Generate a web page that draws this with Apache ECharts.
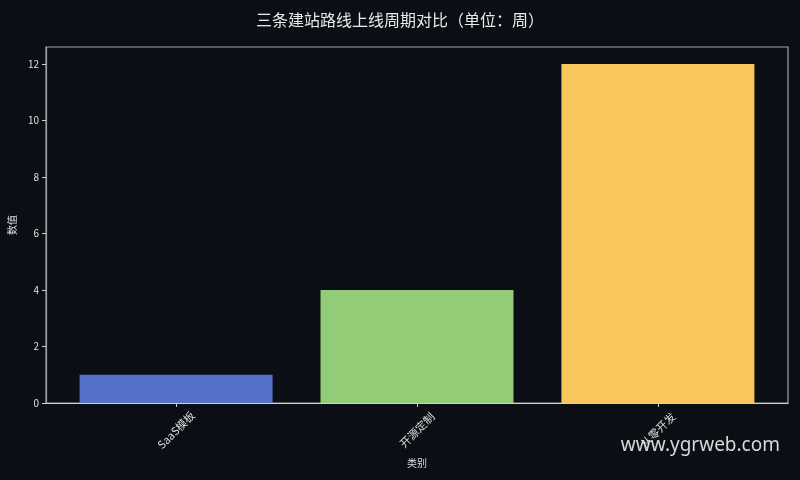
<!DOCTYPE html>
<html>
<head>
<meta charset="utf-8">
<script src="https://cdn.jsdelivr.net/npm/echarts@6/dist/echarts.min.js"></script>
<style>
  html, body { margin: 0; padding: 0; background: #0b0e14; }
  #main { width: 800px; height: 480px; }
</style>
</head>
<body>
<div id="main"></div>
<script>
// chart data
var categories = ['SaaS模板', '开源定制', '从零开发'];
var weeks = [1, 4, 12];
var barColors = ['#5572c8', '#93cc76', '#f8c75c'];
var yTicks = [0, 2, 4, 6, 8, 10, 12];

var font = '"Noto Sans CJK SC", "DejaVu Sans", sans-serif';
var myChart = echarts.init(document.getElementById('main'));

myChart.setOption({
    backgroundColor: '#0b0e14',
    animation: false,
    title: {
        text: '三条建站路线上线周期对比（单位：周）',
        left: 'center',
        top: 7,
        textStyle: { color: '#e8e8e8', fontSize: 16, fontWeight: 'normal', fontFamily: font }
    },
    grid: {
        left: 46, right: 12, top: 47, bottom: 77,
        outerBoundsMode: 'none',
        containLabel: false,
        show: true,
        borderColor: '#a0a0a0',
        borderWidth: 1.2
    },
    // value axis so bars sit where matplotlib puts them (x range -0.54 .. 2.54)
    xAxis: {
        type: 'value',
        min: -0.54,
        max: 2.54,
        name: '类别',
        nameLocation: 'middle',
        nameGap: 53,
        nameTextStyle: { color: '#dddddd', fontSize: 10, fontFamily: font },
        splitLine: { show: false },
        axisLine: { show: true, onZero: false, lineStyle: { color: '#d0d0d0', width: 1.2 } },
        axisTick: { show: true, length: 4, customValues: [0, 1, 2], lineStyle: { color: '#d0d0d0' } },
        axisLabel: {
            customValues: [0, 1, 2],
            rotate: 45,
            align: 'center',
            verticalAlign: 'middle',
            margin: 27,
            color: '#dddddd',
            fontSize: 11,
            fontFamily: font,
            formatter: function (v) { return categories[Math.round(v)]; }
        }
    },
    yAxis: {
        type: 'value',
        min: 0,
        max: 12.6,
        name: '数值',
        nameLocation: 'middle',
        nameRotate: 90,
        nameGap: 26,
        nameTextStyle: { color: '#dddddd', fontSize: 10, fontFamily: font },
        splitLine: { show: false },
        axisLine: { show: true, onZero: false, lineStyle: { color: '#a0a0a0', width: 1.2 } },
        axisTick: { show: true, length: 4, customValues: yTicks, lineStyle: { color: '#d0d0d0' } },
        axisLabel: {
            customValues: yTicks,
            margin: 7,
            color: '#e0e0e0',
            fontSize: 10,
            fontFamily: font
        }
    },
    series: [{
        type: 'bar',
        barWidth: 193,
        data: weeks.map(function (v, i) {
            return { value: [i, v], itemStyle: { color: barColors[i] } };
        })
    }],
    graphic: [{
        type: 'text',
        right: 20,
        top: 436,
        style: {
            text: 'www.ygrweb.com',
            fill: '#d8d8d8',
            fontSize: 19,
            fontFamily: '"Noto Sans", sans-serif'
        }
    }]
});
</script>
</body>
</html>
